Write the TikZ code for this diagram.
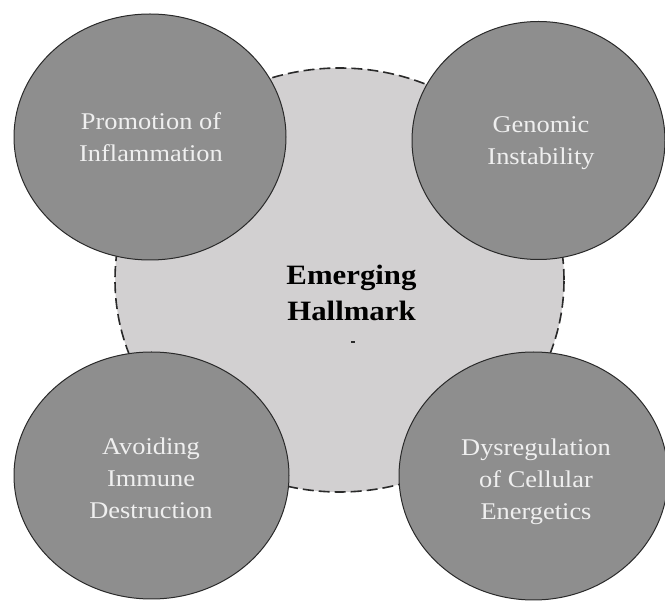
\documentclass[tikz,border=0pt]{standalone}
\usepackage{fontspec}
\setmainfont{Liberation Serif}
\usepackage{graphicx}
\usetikzlibrary{shapes.geometric}

\definecolor{hubfill}{HTML}{D2D0D1}
\definecolor{blobfill}{HTML}{8E8E8E}
\definecolor{edge}{HTML}{2A2A2A}
\definecolor{blobtextcol}{HTML}{EFEFEF}

% slightly widened multi-line text block
\newcommand\spreadtext[1]{\scalebox{1.1}[1]{\begin{tabular}{@{}c@{}}#1\end{tabular}}}

\tikzset{
  hub/.style={ellipse, inner sep=0pt, fill=hubfill, draw=edge,
    line width=1.6pt, dash pattern=on 11pt off 5pt},
  blob/.style={ellipse, inner sep=0pt, fill=blobfill, draw=edge, line width=1pt},
  blobtext/.style={inner sep=0pt, text=blobtextcol,
    font=\fontsize{24}{32}\selectfont},
  hubtext/.style={inner sep=0pt, text=black,
    font=\fontsize{28}{36}\selectfont\bfseries},
}

\begin{document}
\begin{tikzpicture}[x=1pt, y=-1pt]
  \useasboundingbox (0,0) rectangle (665,601);
  \clip (0,0) rectangle (665,601);

  % central hallmark
  \node[hub, minimum width=449pt, minimum height=424pt] (hub) at (339.5,280) {};
  \node[hubtext] (hubtext) at (351.5,295.8) {\spreadtext{Emerging\\Hallmark}};
  \node[inner sep=0pt, fill=edge, minimum width=4pt, minimum height=1.2pt] (mark) at (353,342) {};

  % four surrounding hallmarks
  \node[blob, minimum width=272pt, minimum height=246pt] (tl) at (150,137) {};
  \node[blob, minimum width=253pt, minimum height=238pt] (tr) at (538.5,140.5) {};
  \node[blob, minimum width=275pt, minimum height=247pt] (bl) at (151.5,475.5) {};
  \node[blob, minimum width=269pt, minimum height=248pt] (br) at (533.5,476) {};

  \node[blobtext] (tltext) at (151,139.6) {\spreadtext{Promotion of\\Inflammation}};
  \node[blobtext] (trtext) at (541,142.6) {\spreadtext{Genomic\\Instability}};
  \node[blobtext] (bltext) at (151,480.6) {\spreadtext{Avoiding\\Immune\\Destruction}};
  \node[blobtext] (brtext) at (536,481.6) {\spreadtext{Dysregulation\\of Cellular\\Energetics}};
\end{tikzpicture}
\end{document}
